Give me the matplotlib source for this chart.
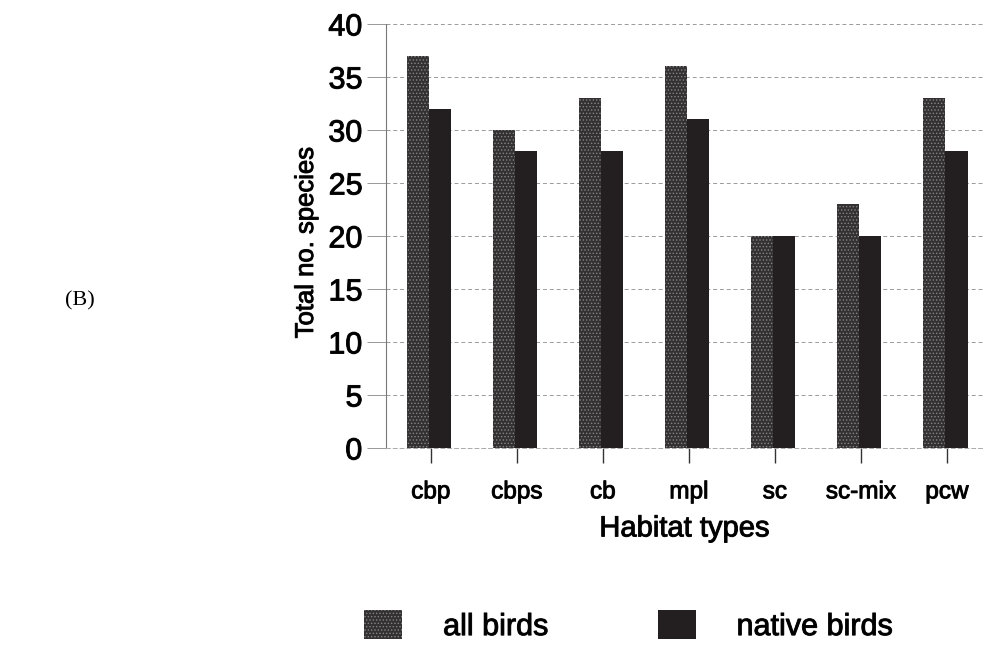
import numpy as np
import matplotlib.pyplot as plt
import matplotlib.patheffects as pe
from matplotlib.patches import Patch

# Species counts per habitat type
habitats = ["cbp", "cbps", "cb", "mpl", "sc", "sc-mix", "pcw"]
all_birds = [37, 30, 33, 36, 20, 23, 33]
native_birds = [32, 28, 28, 31, 20, 20, 28]

plt.rcParams['font.family'] = ['Liberation Sans', 'DejaVu Sans']
plt.rcParams['hatch.linewidth'] = 0.6

ALL_COLOR = '#343132'
NATIVE_COLOR = '#231f20'
# slightly heavier strokes for the sans-serif text
heavy = [pe.withStroke(linewidth=0.7, foreground='#111111')]

fig = plt.figure(figsize=(9.83, 6.47), dpi=100)
ax = fig.add_axes([0.3927, 0.3076, 0.6073, 0.6554])

x = np.arange(len(habitats))
w = 0.26
ax.bar(x - w / 2 - 0.02, all_birds, w, color=ALL_COLOR, edgecolor='#858585',
       hatch='.....', linewidth=0, zorder=3)
ax.bar(x + w / 2 - 0.02, native_birds, w, color=NATIVE_COLOR, linewidth=0, zorder=3)

ax.set_xlim(-0.52, 6.42)
ax.set_ylim(0, 40)
ax.set_yticks(range(0, 41, 5))
ax.set_xticks(x)
ax.set_xticklabels(habitats, fontsize=17.5)
ax.tick_params(axis='y', labelsize=22, length=14, width=0.6, color='#888888', pad=3)
ax.tick_params(axis='x', length=11, width=1.0, color='#333333', pad=13)

ax.yaxis.grid(True, color='#9a9a9a', linestyle=(0, (4, 3)), linewidth=0.7)
ax.set_axisbelow(True)

for side in ['top', 'right']:
    ax.spines[side].set_visible(False)
ax.spines['left'].set_color('#777777')
ax.spines['left'].set_linewidth(0.8)
ax.spines['bottom'].set_color('#aaaaaa')
ax.spines['bottom'].set_linestyle((0, (4, 3)))
ax.spines['bottom'].set_linewidth(0.7)

ax.set_ylabel("Total no. species", fontsize=18.5)
ax.yaxis.set_label_coords(-0.114, 0.485)
ax.set_xlabel("Habitat types", fontsize=21, labelpad=8)

handles = [Patch(facecolor=ALL_COLOR, edgecolor='#858585', hatch='.....', linewidth=0),
           Patch(facecolor=NATIVE_COLOR, linewidth=0)]
leg = fig.legend(handles, ["all birds", "native birds"], loc='center left',
                 bbox_to_anchor=(0.355, 0.032), ncol=2, frameon=False, fontsize=22,
                 borderpad=0, handlelength=1.24, handleheight=1.05,
                 handletextpad=1.34, columnspacing=3.6)

for t in ax.get_xticklabels() + ax.get_yticklabels() + leg.get_texts():
    t.set_path_effects(heavy)
ax.xaxis.label.set_path_effects(heavy)
ax.yaxis.label.set_path_effects(heavy)

fig.text(0.066, 0.535, "(B)", fontsize=16, family=['Liberation Serif', 'DejaVu Serif'],
         ha='left', va='center')

fig.savefig("out.png", dpi=100)
